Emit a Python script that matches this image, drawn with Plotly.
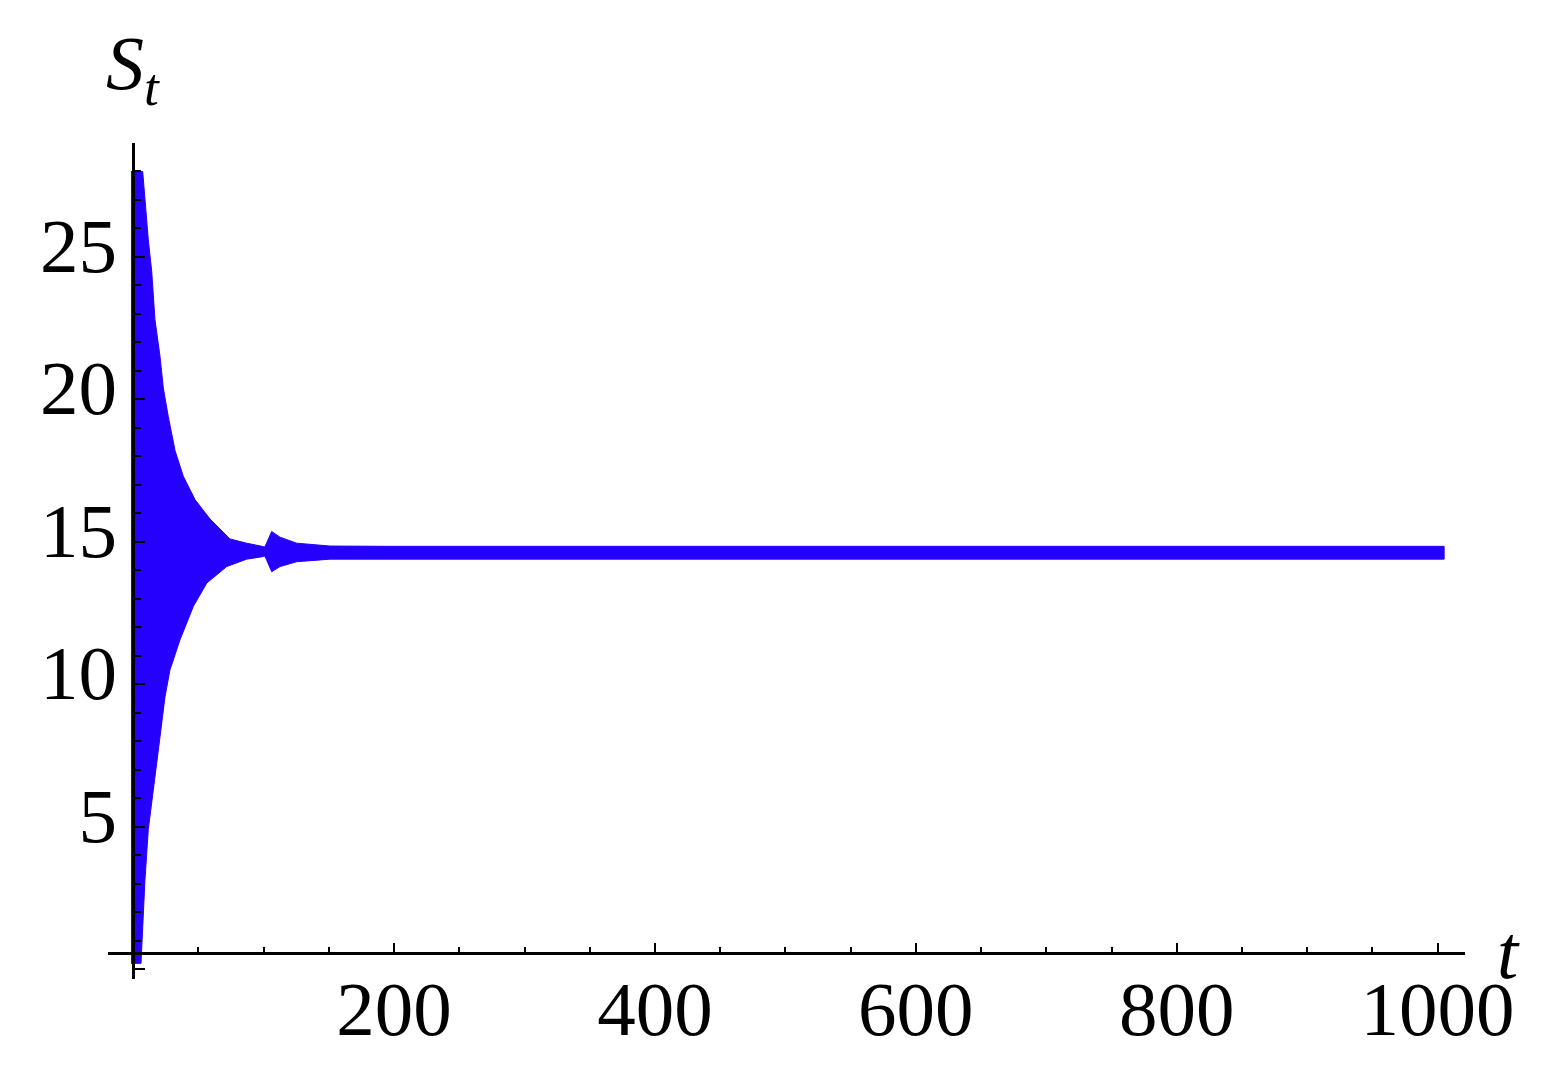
import plotly.graph_objects as go

# envelope of the oscillating S_t
t_upper = [-1.7, 7.3, 11.6, 14.2, 16.7, 20.6, 23.1, 26.9, 32.1, 38.4, 47.4, 58.9,
           74.2, 87.0, 99.8, 101.0, 106.2, 112.6, 125.4, 150.9, 200, 1005]
s_upper = [28.0, 28.0, 25.6, 24.5, 22.8, 21.5, 20.4, 19.4, 18.2, 17.3, 16.48, 15.8,
           15.1, 14.95, 14.83, 14.82, 15.36, 15.16, 14.95, 14.85, 14.84, 14.84]

t_lower = [-1.7, 6.0, 6.5, 9.0, 11.6, 15.4, 20.6, 24.4, 28.2, 35.9, 46.1, 56.4,
           71.7, 87.0, 99.8, 101.0, 106.2, 112.6, 125.4, 150.9, 200, 1005]
s_lower = [0.2, 0.2, 1.0, 3.1, 4.9, 6.3, 8.16, 9.56, 10.5, 11.56, 12.73, 13.55,
           14.13, 14.39, 14.48, 14.5, 13.95, 14.13, 14.3, 14.39, 14.39, 14.39]

x_ticks = [200, 400, 600, 800, 1000]
y_ticks = [0, 5, 10, 15, 20, 25]
y_labels = ['', '5', '10', '15', '20', '25']

x_range = [-19.3, 1021]
y_range = [-0.35, 29.0]
x_axis_at = 0.56   # Mathematica puts the t axis at the data minimum

fonte = 'Liberation Serif'
azul = 'rgb(38, 0, 255)'

fig = go.Figure()
# faixa preenchida entre envelope superior e inferior
fig.add_trace(go.Scatter(x = t_upper + t_lower[::-1],
                         y = s_upper + s_lower[::-1],
                         fill = 'toself',
                         fillcolor = azul,
                         line = dict(color = azul, width = 1),
                         mode = 'lines',
                         hoverinfo = 'skip'))

# margens descontam os 8px do body da pagina
fig.update_layout(width = 1563, height = 1073,
                  margin = dict(l = 100, r = 106, t = 135, b = 102),
                  plot_bgcolor = 'white',
                  paper_bgcolor = 'white',
                  showlegend = False,
                  font = dict(family = fonte, size = 77, color = 'black'))

fig.update_xaxes(range = x_range,
                 anchor = 'free', automargin = False,
                 position = (x_axis_at - y_range[0]) / (y_range[1] - y_range[0]),
                 showgrid = False, zeroline = False,
                 showline = True, linecolor = 'black', linewidth = 2.5,
                 tickmode = 'array', tickvals = x_ticks,
                 ticks = 'inside', ticklen = 9, tickwidth = 2, tickcolor = 'black',
                 ticklabelstandoff = -12,
                 minor = dict(tickmode = 'linear', tick0 = 0, dtick = 50,
                              ticks = 'inside', ticklen = 5, tickwidth = 2,
                              tickcolor = 'black', showgrid = False))

fig.update_yaxes(range = y_range,
                 anchor = 'free', automargin = False,
                 position = (0 - x_range[0]) / (x_range[1] - x_range[0]),
                 showgrid = False, zeroline = False,
                 showline = True, linecolor = 'black', linewidth = 2.5,
                 tickmode = 'array', tickvals = y_ticks, ticktext = y_labels,
                 ticks = 'inside', ticklen = 10, tickwidth = 2, tickcolor = 'black',
                 ticklabelstandoff = 0, ticklabelshift = -12,
                 minor = dict(tickmode = 'linear', tick0 = 0, dtick = 1,
                              ticks = 'inside', ticklen = 6, tickwidth = 2,
                              tickcolor = 'black', showgrid = False))

# rotulos dos eixos
fig.add_annotation(x = 0.0184, y = 1.089, xref = 'paper', yref = 'paper',
                   text = '<i>S</i><sub><i>t</i></sub>',
                   showarrow = False, xanchor = 'center', yanchor = 'middle',
                   font = dict(family = fonte, size = 76, color = 'black'))
fig.add_annotation(x = 1.0324, y = 0.032, xref = 'paper', yref = 'paper',
                   text = '<i>t</i>',
                   showarrow = False, xanchor = 'center', yanchor = 'middle',
                   font = dict(family = fonte, size = 76, color = 'black'))

fig.write_html('out.html')
